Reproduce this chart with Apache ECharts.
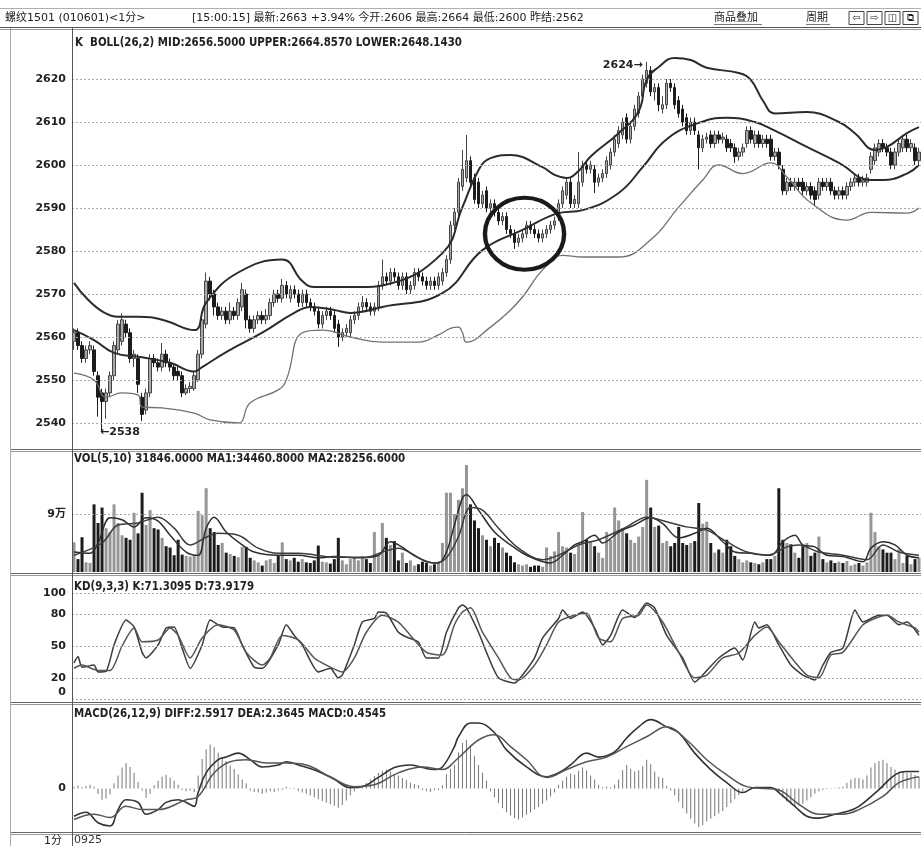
<!DOCTYPE html>
<html><head><meta charset="utf-8">
<script src="https://cdn.jsdelivr.net/npm/echarts@6/dist/echarts.min.js"></script>
<style>html,body{margin:0;padding:0;background:#fff}#c{width:921px;height:846px}</style>
</head><body><div id="c"></div>
<script>
// ---------- DATA ----------
// [open, close, low, high]
const candles = [
[2559,2561,2557,2562],[2561,2558,2557,2562],[2558,2555,2554,2559],[2555,2557,2554,2558],[2557,2558,2556,2559],
[2557,2552,2551,2558],[2551,2546,2541.5,2552],[2547,2545,2538,2548],[2545,2547,2541,2548],[2547,2551,2546,2552],
[2551,2558,2550,2559],[2557,2563,2556,2564],[2559,2564,2558,2565.5],[2563,2561,2560,2564],[2561,2555,2554,2562],
[2555,2556,2553,2557],[2555,2549,2547,2556],[2546,2542,2540.5,2547],[2543,2547,2542,2548],[2547,2555,2546,2556],
[2555,2554,2553,2556],[2554,2553,2552,2555],[2553,2556,2552,2558.6],[2556,2554,2553,2557],[2554,2553,2552,2555],
[2553,2551,2550,2554],[2552,2551,2550,2553],[2551,2547,2546,2552],[2547,2548,2546.5,2549],[2548,2548.5,2547,2549.5],
[2548,2551,2547.5,2552],[2550,2556,2549.5,2557],[2556,2564,2555,2565],[2563,2573,2562,2575],[2573,2570,2568.5,2574],
[2570,2567,2565,2571],[2567,2565,2564,2568],[2565,2566,2564,2567],[2566,2564,2563,2567],[2564,2566,2563,2568],
[2566,2565,2564,2567],[2565,2568,2564,2569],[2567,2571,2566,2572.6],[2570,2564,2562,2571],[2564,2562,2561,2565],
[2562,2564,2561,2565],[2564,2565,2563,2566],[2565,2564,2563,2566],[2564,2565,2563,2566.5],[2565,2568,2564,2569],
[2568,2570,2567,2571],[2570,2569,2568,2571],[2569,2572,2568,2573.5],[2572,2570,2569,2573],[2569,2571,2568,2572],
[2571,2570,2569,2572],[2570,2568,2567,2571],[2568,2570,2567,2571],[2570,2568,2567,2571],[2568,2567,2566,2569],
[2567,2566,2565,2568],[2566,2563,2562,2567],[2563,2565,2562,2566],[2565,2566,2564,2567],[2566,2565,2564,2567],
[2565,2562,2561,2566],[2563,2560,2557.7,2564],[2560,2561,2559,2562],[2561,2562,2560,2563],[2561,2564,2560,2565],
[2564,2565,2563,2566],[2565,2567,2564,2568],[2567,2568,2566,2569.5],[2568,2567,2566,2569],[2567,2566,2565,2568],
[2566,2567,2565,2568],[2567,2572,2566,2573],[2572,2574,2571,2578],[2574,2573,2572,2575],[2573,2575,2572,2576],
[2575,2574,2573,2576],[2574,2572,2571,2575],[2572,2574,2571,2575],[2574,2571,2570,2575],[2571,2572,2570,2573],
[2572,2575,2571,2576],[2575,2574,2573,2576],[2574,2573,2572,2575],[2573,2572,2571,2574],[2572,2573,2571,2574],
[2573,2572,2571,2574],[2572,2574,2571,2575],[2573,2575,2572,2576],[2575,2578,2574,2579],[2578,2586,2577,2587],
[2586,2589,2585,2590],[2589,2596,2588,2597],[2595,2599,2594,2603.5],[2597,2601,2596,2607],[2601,2596,2595,2602],
[2597,2592,2591,2598],[2596,2591,2590,2597],[2591,2593,2590,2594],[2594,2590,2589,2595],[2590,2591,2589,2592],
[2591,2589,2588,2592],[2589,2587,2586,2590],[2587,2588,2586,2589],[2588,2585,2584,2589],[2585,2584,2583,2586],
[2584,2582,2580.5,2585],[2582,2583,2581,2584],[2583,2584,2582,2585],[2584,2586,2583,2587],[2586,2585,2584,2587],
[2585,2584,2583,2586],[2584,2583,2582,2585],[2583,2584,2582,2585],[2584,2585,2583,2586],[2585,2586,2584,2587],
[2586,2587,2585,2588],[2588,2591,2587,2592],[2591,2594,2590,2595],[2593,2596,2592,2597],[2596,2591,2590,2597],
[2591,2592,2590,2593],[2591,2596,2590,2603],[2596,2600,2595,2601],[2600,2599,2598,2601],[2599,2600,2598,2601],
[2599,2596,2593.5,2600],[2596,2597,2595,2598],[2597,2598,2596,2599],[2598,2601,2597,2602],[2600,2603,2599,2604],
[2603,2606,2602,2607],[2605,2608,2604,2609],[2607,2610,2606,2611],[2611,2606,2605,2612],[2606,2609,2605,2610],
[2609,2613,2608,2614],[2612,2616,2611,2617],[2616,2620,2615,2621],[2619,2622,2618,2624],[2622,2617,2616,2623],
[2617,2618,2615,2619],[2618,2614,2612.5,2619],[2613,2614,2612,2616],[2614,2619,2613,2620],[2619,2618,2617,2620],
[2618,2614,2613,2619],[2615,2612,2611,2616],[2613,2610,2609,2614],[2611,2608,2607,2612],[2608,2610,2607,2611],
[2610,2608,2607,2611],[2607,2604,2599,2608],[2604,2606,2603,2607],[2606,2606.5,2605,2607.5],[2607,2605,2604,2608],
[2605,2607,2604,2608],[2607,2606,2605,2608],[2606,2606.5,2605,2607.5],[2606,2604,2603,2607],[2605,2604,2603,2606],
[2604,2602,2600.5,2605],[2602,2603,2601,2604],[2603,2604,2602,2605],[2605,2608,2604,2609],[2608,2606,2605,2609],
[2605,2607,2604,2608],[2607,2605,2604,2608],[2605,2606,2604,2607],[2606,2605,2604,2607],[2606,2602,2601,2607],
[2602,2603,2601,2604],[2603,2600,2599,2604],[2599,2594,2593,2600],[2594,2596,2593,2597],[2596,2595,2594,2597],
[2595,2596,2594,2597],[2596,2595,2594,2597],[2596,2594,2593,2597],[2594,2595,2593,2596],[2595,2593,2592,2596],
[2594,2592,2590.7,2595],[2593,2596,2592,2597],[2596,2595,2594,2597],[2595,2596,2594,2597],[2596,2594,2593,2597],
[2594,2593,2592,2595],[2593,2594,2592,2595],[2594,2593,2592,2595],[2593,2595,2592,2596],[2595,2596,2594,2597],
[2596,2597,2595,2598],[2597,2596,2595,2598],[2596,2596.5,2595,2597.5],[2596,2597,2595,2598],[2599,2602,2598,2603],
[2601,2604,2600,2605],[2603,2605,2602,2606],[2605,2604,2603,2606],[2604,2603,2602,2605],[2603,2600,2599,2604],
[2600,2603,2599,2604],[2603,2605,2602,2606],[2604,2606,2603,2607],[2606,2604,2603,2607],[2604,2605,2603,2606],
[2604,2601,2600,2605],[2601,2603,2600,2604]
];
const volumes = [
46000,20000,54000,15000,14000,105000,76000,100000,68000,62000,
105000,76000,57000,53000,50000,92000,60000,123000,73000,96000,
68000,66000,53000,40000,38000,26000,50000,27000,25000,24000,
26000,95000,88000,130000,68000,62000,42000,45000,30000,28000,
25000,23000,39000,39000,22000,18000,15000,10000,18000,20000,
14000,25000,46000,20000,18000,22000,16000,20000,15000,14000,
18000,41000,16000,15000,13000,20000,53000,18000,12000,20000,
22000,18000,24000,20000,14000,62000,25000,76000,53000,42000,
48000,18000,30000,14000,18000,10000,12000,16000,14000,10000,
12000,14000,45000,123000,123000,90000,112000,130000,166000,105000,
80000,68000,57000,50000,40000,53000,45000,38000,30000,25000,
15000,12000,10000,12000,8000,10000,10000,8000,38000,25000,
32000,62000,40000,38000,30000,28000,42000,93000,50000,48000,
40000,30000,22000,62000,50000,100000,80000,68000,60000,50000,
45000,55000,70000,143000,100000,70000,72000,45000,48000,40000,
45000,70000,45000,42000,45000,48000,107000,75000,78000,45000,
30000,35000,30000,50000,40000,25000,20000,15000,18000,15000,
14000,12000,15000,20000,20000,25000,130000,50000,45000,43000,
30000,22000,40000,45000,25000,30000,55000,20000,15000,18000,
14000,16000,14000,17000,10000,12000,14000,10000,15000,92000,
62000,40000,35000,30000,30000,20000,35000,14000,25000,12000,
20000,22000
];
// sparse readings [barIndex, value]
const bollUpper = [[0,2572.6],[11,2564.7],[16,2564.7],[22,2564],[30,2561.6],[33,2568],[41,2575],[52,2578],[57,2573],[60,2571.6],[72,2571.6],[77,2572],[92,2579.5],[97,2590.2],[101,2598.8],[104,2601.6],[109,2602.3],[117,2599.5],[120,2597.7],[123,2597],[126,2598.6],[129,2602],[136,2607.4],[141,2612.5],[143,2619.8],[146,2622.8],[150,2624.9],[154,2624.4],[158,2622.6],[166,2621.4],[169,2619.8],[172,2615],[175,2612],[183,2612.3],[191,2610],[195,2607.4],[200,2603.5],[203,2604.2],[208,2607.4],[211,2608.8]];
const bollMid = [[0,2561.6],[5,2559.3],[10,2556.3],[17,2555.3],[24,2554],[30,2552],[32,2553],[38,2556.5],[47,2561],[55,2565.6],[59,2567],[65,2566.3],[69,2565.6],[77,2567],[92,2570.2],[102,2580.2],[112,2584.9],[121,2588.8],[127,2589.5],[136,2593.5],[142,2599.5],[148,2606],[156,2609.8],[163,2611],[170,2610],[175,2608],[183,2604.2],[191,2600.5],[199,2596.5],[202,2596.5],[208,2598],[211,2600]];
const bollLower = [[0,2551.6],[5,2550],[8,2546],[12,2547],[16,2546.5],[17,2543.7],[22,2543.5],[30,2542.3],[34,2540.7],[41,2540],[44,2544.7],[51,2547.7],[53,2550],[57,2561],[62,2561.6],[69,2560],[77,2558.8],[86,2558.8],[91,2560.5],[94,2562],[96,2562.3],[97,2561],[98,2558.8],[104,2562.3],[109,2566.3],[112,2569.3],[117,2575.6],[122,2579],[127,2578.6],[136,2578.6],[144,2582.6],[151,2590.2],[157,2596.5],[161,2600],[167,2598],[174,2600.5],[178,2597.2],[184,2591.2],[193,2587.2],[199,2589],[208,2588.8],[211,2590]];
const volMA1 = [[0,31000],[4,29000],[6,45000],[9,84000],[12,81000],[15,70000],[18,84000],[21,79000],[24,57000],[28,31000],[31,26000],[33,68000],[35,85000],[38,62000],[42,42000],[45,31000],[51,26000],[56,26000],[61,22000],[65,24000],[71,22000],[76,26000],[79,47000],[81,42000],[85,26000],[88,16000],[91,14000],[93,31000],[95,73000],[97,115000],[98,120000],[101,96000],[105,62000],[109,42000],[113,26000],[119,14000],[122,26000],[125,42000],[127,47000],[130,57000],[132,45000],[136,62000],[140,73000],[144,84000],[147,75000],[151,53000],[155,60000],[158,68000],[162,47000],[165,31000],[169,29000],[174,26000],[177,47000],[180,57000],[182,42000],[185,39000],[188,26000],[192,24000],[197,16000],[199,37000],[202,47000],[205,42000],[208,26000],[211,22000]];
const volMA2 = [[0,26000],[7,45000],[11,73000],[16,76000],[21,85000],[25,68000],[29,42000],[33,54000],[36,60000],[41,57000],[46,37000],[51,29000],[56,29000],[65,23000],[73,23000],[77,31000],[81,37000],[86,22000],[90,14000],[93,22000],[96,55000],[99,100000],[102,96000],[106,68000],[111,37000],[117,19000],[121,26000],[126,42000],[131,50000],[138,70000],[143,85000],[148,78000],[153,70000],[158,65000],[163,47000],[168,31000],[173,26000],[178,39000],[181,42000],[186,31000],[192,26000],[198,19000],[202,42000],[206,31000],[211,26000]];
const kLine = [[0,34],[1,40],[2,30],[5,32],[6,25.5],[8,26],[10,51],[13,74.5],[15,68],[17,44],[18,38.7],[21,51],[23,67],[25,68],[27,48],[29,29],[32,51],[34,74.5],[37,68],[40,67],[42,51],[45,30],[47,29],[51,51],[53,70],[55,60],[57,51],[61,25.5],[64,29],[66,20],[67,22.6],[70,51],[72,72.6],[75,76],[76,82],[78,81],[81,63],[83,58.5],[86,53.8],[88,38.7],[91,38.7],[93,63],[96,86],[97,88.7],[98,86],[101,63],[103,44],[106,20],[110,15],[112,22.6],[115,38.7],[117,57.5],[121,76],[122,84],[124,76],[127,82],[130,67],[132,51],[134,60],[137,84],[140,77],[143,90.6],[145,86],[148,60],[152,38.7],[155,16],[157,22.6],[161,38.7],[165,48],[167,36.8],[170,72.6],[171,67],[173,70],[176,51],[179,32],[182,22.6],[185,18],[187,32],[189,44],[192,48],[195,84],[197,72.6],[201,79],[203,79],[206,70],[208,72.6],[211,60]];
const dLine = [[0,29],[2,32],[6,27],[9,27],[12,50],[15,67],[17,54],[21,55.7],[24,67],[26,60],[29,38.7],[32,57.5],[36,70],[40,65],[43,44],[47,32],[49,38.7],[52,60],[56,55.7],[60,38.7],[63,32],[67,25.5],[70,38.7],[73,63],[77,79],[81,72.6],[84,60],[88,44],[92,41.5],[95,70],[97,82],[99,86],[102,63],[106,38.7],[109,20],[111,18],[115,32],[118,51],[121,72.6],[125,79],[128,81],[131,57.5],[134,54],[137,76],[141,79],[143,88.7],[147,72.6],[151,44],[155,20],[158,22.6],[162,38.7],[166,43.4],[170,60],[173,68],[176,54],[180,35],[183,22.6],[186,20],[189,41.5],[192,44],[197,70],[200,76],[203,79],[206,72.6],[210,67],[211,63]];
const diffLine = [[0,-4.2],[3,-3.6],[6,-5.2],[9,-5.7],[11,-3.2],[13,-1.7],[16,-2.1],[18,-3.9],[21,-3.2],[23,-2.1],[26,-1.7],[28,-2.1],[30,-2.7],[31,-0.6],[33,2.4],[36,4.4],[38,4.8],[41,5.4],[44,4.4],[47,3.3],[51,3.6],[53,4.1],[56,3.6],[61,2.6],[65,1.4],[69,0.15],[72,0.3],[76,1.7],[80,3.2],[84,3.6],[87,3.2],[90,2.9],[92,3.3],[95,6.4],[96,7.9],[99,10],[101,10],[105,8.5],[108,5.9],[113,3.3],[118,1.8],[121,2.4],[124,3.6],[128,5.4],[131,4.8],[135,5.6],[138,7.7],[141,9.4],[144,10.5],[148,9.4],[151,8.5],[155,5.4],[159,2.9],[163,0.9],[167,-0.6],[170,0.15],[174,0.15],[176,-0.6],[180,-2.7],[183,-4.2],[186,-4.5],[190,-3.9],[193,-3.5],[196,-2.7],[201,-0.15],[205,2.1],[208,2.6],[211,2.6]];
const deaLine = [[0,-4.7],[5,-3.9],[9,-4.4],[13,-2.7],[17,-3.2],[21,-3.2],[28,-1.7],[31,-1.2],[35,2.4],[39,4.1],[43,4.4],[48,3.9],[53,3.9],[58,3.6],[64,1.8],[70,0.3],[75,0.6],[81,2.4],[87,3.3],[92,2.9],[96,4.7],[101,7.4],[105,8.2],[109,6.4],[113,4.4],[118,1.7],[123,2.9],[128,4.1],[133,4.8],[138,6.4],[143,7.9],[148,9.4],[153,7.4],[158,4.4],[163,2.1],[168,0.3],[173,0],[176,-0.2],[181,-2.4],[186,-3.9],[192,-3.9],[196,-3.2],[202,-1.2],[206,0.9],[211,1.8]];
const macdHist = [
0.3,0.5,0.2,0.4,0.6,0.3,
-0.8,-1.7,-1.5,-0.9,
0.8,2.0,3.2,3.9,3.3,2.4,
1.0,-0.3,
-1.4,-0.8,
0.5,1.2,1.8,2.1,1.7,1.2,0.6,
-0.2,-0.4,-0.3,-0.5,
2.0,4.5,6.0,6.7,6.3,5.5,4.8,4.2,3.5,3.0,2.2,1.4,0.8,
-0.3,-0.5,-0.6,-0.8,-0.6,-0.4,-0.5,-0.3,-0.2,
0.3,0.1,-0.1,
-0.4,-0.6,-0.8,-1.0,-1.3,-1.6,-1.9,-2.1,-2.4,-2.6,-2.9,-2.5,-1.8,
-1.0,-0.4,0.1,
0.4,0.9,1.4,1.9,2.4,2.7,2.9,2.6,2.2,2.0,1.6,1.3,0.9,0.7,0.5,
-0.2,-0.4,-0.5,-0.3,-0.2,
0.5,2.2,3.0,3.6,5.5,7.0,7.4,6.6,5.0,3.6,2.4,1.2,
-0.4,-1.3,-2.2,-3.0,-3.6,-4.1,-4.5,-4.7,-4.4,-4.0,-3.6,-3.2,-2.8,-2.3,-1.8,-1.2,-0.6,
0.6,1.2,1.8,2.3,2.1,2.7,3.2,2.8,2.0,1.4,0.6,
0.2,0.3,0.2,
0.6,1.4,2.8,3.6,3.0,2.6,2.8,3.4,4.4,3.7,2.6,1.8,1.6,0.4,
-0.3,-1.0,-2.0,-3.0,-3.8,-4.6,-5.3,-5.9,-5.6,-5.0,-4.6,-4.2,-3.8,-3.4,-2.8,-2.2,-1.6,-1.0,-0.4,
0.1,-0.1,0.1,0,0.1,-0.1,0,0.1,
-0.6,-1.4,-2.0,-2.4,-2.7,-2.6,-2.3,-1.8,-1.3,-0.8,-0.4,
-0.2,-0.1,0.1,0.1,0.2,
0.3,0.9,1.4,1.6,1.6,1.4,2.0,3.2,3.9,4.2,4.4,3.9,3.3,2.9,2.6,2.6,2.4,2.4,2.1,1.8
];
const priceTicks = [2540,2550,2560,2570,2580,2590,2600,2610,2620];
const kdTicks = [0,20,50,80,100];
const volTicks = [90000];

// session minute labels starting 09:25
const sessions = [[9*60+25,10*60+15],[10*60+30,11*60+30],[13*60+30,15*60],[21*60,23*60]];
const categories = [];
for (const [s,e] of sessions){ for(let t=s;t<e && categories.length<candles.length;t++){ const h=Math.floor(t/60),m=t%60; categories.push(String(h).padStart(2,'0')+String(m).padStart(2,'0')); } }

// ---------- CHART ----------
const chart = echarts.init(document.getElementById('c'));
const FT = '"DejaVu Sans Condensed","Liberation Sans Narrow","DejaVu Sans","Noto Sans CJK SC",sans-serif';
const FY = '"DejaVu Sans","Noto Sans CJK SC",sans-serif';
const UP = '#a9a9a9', DN = '#1c1c1c';
const L = 72, W = 849;
const gridSpec = [
  {left:L, width:W, top:36, height:430},
  {left:L, width:W, top:456, height:116},
  {left:L, width:W, top:593, height:106},
  {left:L, width:W, top:709.8, height:118.8}
];
const xAxes = gridSpec.map((g,i)=>({
  type:'category', gridIndex:i, data:categories, boundaryGap:true,
  axisLine:{show:false}, axisTick:{show:false}, splitLine:{show:false},
  axisLabel: i===3 ? {show:true, interval:(idx)=>idx===0, align:'left', margin:7, color:'#333', fontSize:11, fontFamily:FY,
     formatter:(v,idx)=> idx===0 ? v : ''} : {show:false}
}));
const yLab = {color:'#222', fontSize:11, fontWeight:'bold', fontFamily:FY, margin:6};
const yAxes = [
  {type:'value', gridIndex:0, min:2530, max:2630, interval:10, axisLine:{show:false}, axisTick:{show:false}, splitLine:{show:false},
   axisLabel:Object.assign({}, yLab, {formatter:v => priceTicks.includes(v) ? String(v) : ''})},
  {type:'value', gridIndex:1, min:0, max:180000, interval:90000, axisLine:{show:false}, axisTick:{show:false}, splitLine:{show:false},
   axisLabel:Object.assign({}, yLab, {formatter:v => volTicks.includes(v) ? (v/10000)+'万' : ''})},
  {type:'value', gridIndex:2, min:0, max:100, interval:10, axisLine:{show:false}, axisTick:{show:false}, splitLine:{show:false},
   axisLabel:Object.assign({}, yLab, {formatter:v => v===0 ? '{z|0}' : (kdTicks.includes(v) ? String(v) : ''),
     rich:{z:{padding:[0,0,14,0], color:'#222', fontSize:11, fontWeight:'bold', fontFamily:FY}}})},
  {type:'value', gridIndex:3, min:-6, max:12, interval:6, axisLine:{show:false}, axisTick:{show:false}, splitLine:{show:false},
   axisLabel:Object.assign({}, yLab, {formatter:v => v===0 ? '0' : ''})}
];
const gridLine = vals => ({silent:true, symbol:['none','none'], label:{show:false}, animation:false,
  lineStyle:{type:[2,2], color:'#a8a8a8', width:1}, data: vals.map(v=>({yAxis:v}))});
const lineS = (data, xi, color, width, smooth) => ({type:'line', xAxisIndex:xi, yAxisIndex:xi, data, showSymbol:false, symbol:'none',
  smooth, lineStyle:{color, width}, silent:true, z:3});

chart.setOption({
  animation:false,
  backgroundColor:'#fff',
  grid:gridSpec,
  xAxis:xAxes,
  yAxis:yAxes,
  series:[
    {type:'candlestick', xAxisIndex:0, yAxisIndex:0, data:candles, barWidth:3,
     itemStyle:{color:UP, color0:DN, borderColor:'#444', borderColor0:DN, borderWidth:1},
     markLine:gridLine(priceTicks)},
    lineS(bollUpper,0,'#2b2b2b',2,0.45),
    lineS(bollMid,0,'#2b2b2b',2,0.45),
    lineS(bollLower,0,'#707070',1.3,0.45),
    {type:'bar', xAxisIndex:1, yAxisIndex:1, barWidth:3,
     data:volumes.map((v,i)=>({value:v, itemStyle:{color: candles[i][1] >= candles[i][0] ? '#969696' : DN}})),
     markLine:gridLine(volTicks)},
    lineS(volMA1,1,'#2e2e2e',1.5,0.35),
    lineS(volMA2,1,'#3c3c3c',1.5,0.35),
    Object.assign(lineS(kLine,2,'#3a3a3a',1.5,0.2), {markLine:gridLine(kdTicks)}),
    lineS(dLine,2,'#555',1.5,0.25),
    {type:'bar', xAxisIndex:3, yAxisIndex:3, data:macdHist, barWidth:1, itemStyle:{color:'#777'}},
    lineS(diffLine,3,'#333',1.6,0.4),
    lineS(deaLine,3,'#555',1.5,0.4)
  ]
});

// ---------- FRAME, TITLES, ANNOTATIONS ----------
const F0 = {xAxisIndex:0, yAxisIndex:0};
const pHigh = chart.convertToPixel(F0, [143, 2624]);
const pLow = chart.convertToPixel(F0, [7, 2538]);
const pCirc = chart.convertToPixel(F0, [112, 2584]);
const txt = (x,y,text,font,align,color) => ({type:'text', x, y, silent:true, z:100,
  style:{text, font, fill:color||'#222', align:align||'left', textAlign:align||'left', verticalAlign:'middle', textVerticalAlign:'middle'}});
const ln = (x1,y1,x2,y2,c,w) => ({type:'line', silent:true, z:90, shape:{x1,y1,x2,y2}, style:{stroke:c||'#555', lineWidth:w||1}});
const g = [];
g.push(ln(0,8.5,921,8.5,'#b0b0b0'));
g.push(ln(0,27.5,921,27.5,'#555'));
g.push(ln(0,29.5,921,29.5,'#999'));
[[449.5,451.5],[573.5,575.5],[702.5,704.5],[832.5,834.5]].forEach(([a,b])=>{ g.push(ln(10,a,921,a,'#666')); g.push(ln(10,b,921,b,'#999')); });
g.push(ln(72.5,28,72.5,846,'#555'));
g.push(ln(10.5,28,10.5,846,'#aaa'));
g.push(txt(5,18,'螺纹1501 (010601)<1分>','11px '+FY));
g.push(txt(192,18,'[15:00:15] 最新:2663 +3.94% 今开:2606 最高:2664 最低:2600 昨结:2562','11px '+FY));
g.push(txt(714,18,'商品叠加','11px '+FY));
g.push(ln(714,24.5,762,24.5,'#777'));
g.push(txt(806,18,'周期','11px '+FY));
g.push(ln(806,24.5,830,24.5,'#777'));
['⇦','⇨','◫','⧉'].forEach((s,i)=>{ const x=849+i*18; g.push({type:'rect', silent:true, z:90, shape:{x:x, y:11.5, width:15, height:13}, style:{fill:'#fff', stroke:'#444', lineWidth:1}}); g.push(txt(x+7.5,18,s,'10px '+FY,'center')); });
g.push(txt(75,43,'K  BOLL(26,2) MID:2656.5000 UPPER:2664.8570 LOWER:2648.1430','bold 11.4px '+FT));
g.push(txt(74,459,'VOL(5,10) 31846.0000 MA1:34460.8000 MA2:28256.6000','bold 11.4px '+FT));
g.push(txt(74,587,'KD(9,3,3) K:71.3095 D:73.9179','bold 11.4px '+FT));
g.push(txt(74,714,'MACD(26,12,9) DIFF:2.5917 DEA:2.3645 MACD:0.4545','bold 11.4px '+FT));
g.push(txt(62,841,'1分','11px '+FY,'right'));
g.push(txt(pHigh[0]-4, pHigh[1]+3, '2624→', 'bold 11px '+FY, 'right'));
g.push(txt(pLow[0]-2, pLow[1]+1, '←2538', 'bold 11px '+FY, 'left'));
g.push({type:'circle', silent:true, z:95, x:pCirc[0]+2, y:pCirc[1], scaleX:1.1, shape:{cx:0, cy:0, r:36},
  style:{fill:'none', stroke:'#1a1a1a', lineWidth:4, strokeNoScale:true}});
chart.setOption({graphic:g});
</script>
</body></html>
